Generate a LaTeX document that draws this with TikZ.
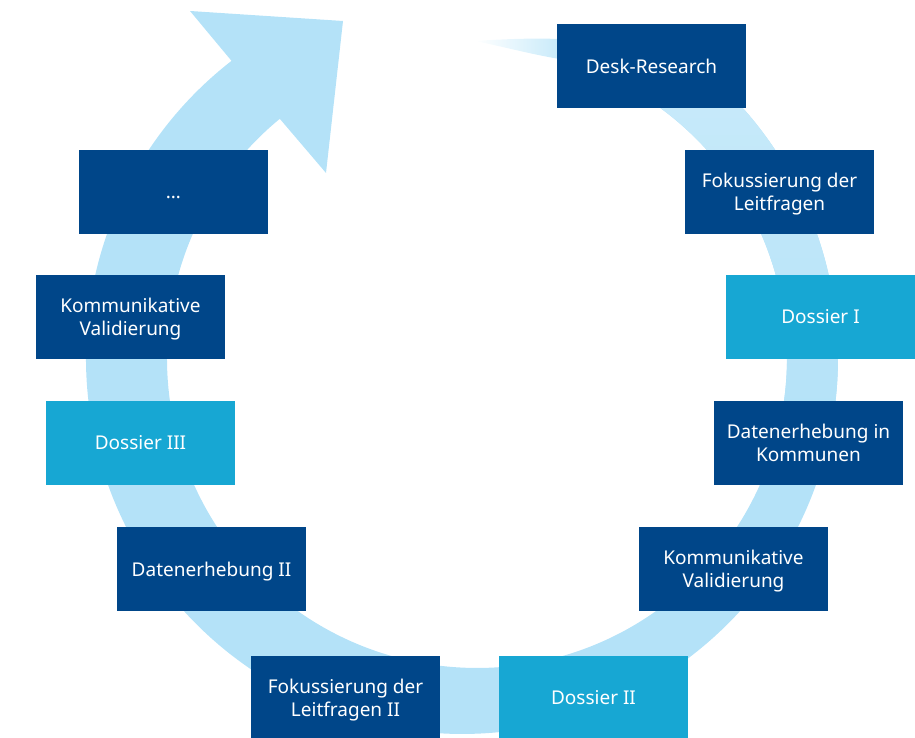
\documentclass[tikz,border=0pt]{standalone}
\usepackage{fontspec}
\setmainfont{Noto Sans}
\usepackage{tikz}
\definecolor{stepdark}{RGB}{0,70,137}
\definecolor{stepcyan}{RGB}{23,167,211}
\definecolor{ringblue}{RGB}{180,226,248}
\definecolor{ringlight}{RGB}{202,235,250}
\tikzset{%
  stepbox/.style={fill=stepdark, text=white, minimum width=189pt, minimum height=84pt,
    inner sep=0pt, align=center, text depth=0pt, font=\fontsize{19}{23.5}\selectfont},
  dossierbox/.style={stepbox, fill=stepcyan}
}

\begin{document}
\begin{tikzpicture}[x=1pt,y=1pt]
\useasboundingbox (0,0) rectangle (915,738);
% ring: outer circle round (462,380), inner circle round (477,380)
\coordinate (outerstart) at (745.3,627.2);
\coordinate (innerend) at (279.8,619.2);
\coordinate (tailtop) at (557,699);
\coordinate (tailtip) at (475,697);
\coordinate (tailbot) at (557.2,679.4);
\fill[ringblue] (outerstart) arc[start angle=41.1, end angle=-232.2, radius=376]
  -- (190,727) -- (343,717) -- (326,565) -- (innerend)
  arc[start angle=129.5, end angle=435, radius=310]
  -- (tailtop) .. controls (620,697) and (712,665) .. (outerstart) -- cycle;
% lighter start of the ring and its fading tail
\shade[top color=ringlight, bottom color=ringblue] (outerstart)
  arc[start angle=41.1, end angle=-10, radius=376] -- (782.3,326.2)
  arc[start angle=-10, end angle=75, radius=310]
  -- (tailtop) .. controls (620,697) and (712,665) .. (outerstart) -- cycle;
\shade[left color=white, right color=ringlight] (tailtip) .. controls (505,699) and (535,700) .. (tailtop)
  -- (tailbot) .. controls (530,684) and (500,692) .. (tailtip) -- cycle;
% steps, clockwise from the top
\node[stepbox] (desk) at (651.5,672) {Desk-Research};
\node[stepbox] (fokus) at (779.5,546) {Fokussierung der\\Leitfragen};
\node[dossierbox] (dossierI) at (820.5,421) {Dossier I};
\node[stepbox] (erhebung) at (808.5,295) {Datenerhebung in\\Kommunen};
\node[stepbox] (validA) at (733.5,169) {Kommunikative\\Validierung};
\node[dossierbox] (dossierII) at (593.5,40) {Dossier II};
\node[stepbox] (fokusII) at (345.5,40) {Fokussierung der\\Leitfragen II};
\node[stepbox] (erhebungII) at (211.5,169) {Datenerhebung II};
\node[dossierbox] (dossierIII) at (140.5,295) {Dossier III};
\node[stepbox] (validB) at (130.5,421) {Kommunikative\\Validierung};
\node[stepbox, text height=13.6pt] (more) at (173.5,546) {…};
\end{tikzpicture}
\end{document}
